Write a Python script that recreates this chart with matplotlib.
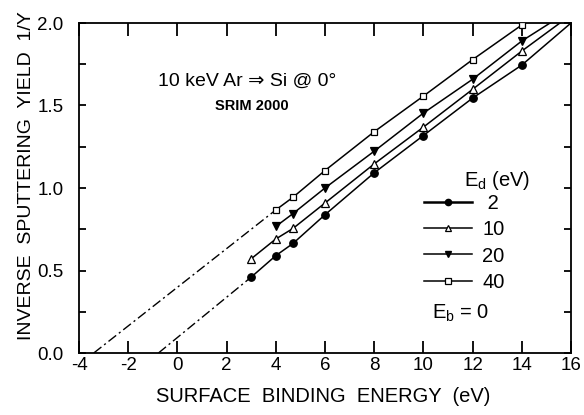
import matplotlib
matplotlib.use("Agg")
import matplotlib.pyplot as plt
from matplotlib.lines import Line2D

plt.rcParams['font.family'] = ['Liberation Sans', 'DejaVu Sans']
plt.rcParams['mathtext.fontset'] = 'custom'
plt.rcParams['mathtext.rm'] = 'Liberation Sans'
plt.rcParams['mathtext.it'] = 'Liberation Sans'

# ---- data ----
ed_labels = ['2', '10', '20', '40']
x_2 = [3, 4, 4.7, 6, 8, 10, 12, 14]
y_2 = [0.46, 0.59, 0.664, 0.838, 1.092, 1.318, 1.545, 1.745]
x_10 = [3, 4, 4.7, 6, 8, 10, 12, 14]
y_10 = [0.571, 0.691, 0.755, 0.909, 1.146, 1.369, 1.598, 1.83]
x_20 = [4, 4.7, 6, 8, 10, 12, 14]
y_20 = [0.767, 0.845, 1.0, 1.223, 1.454, 1.659, 1.891]
x_40 = [4, 4.7, 6, 8, 10, 12, 14]
y_40 = [0.867, 0.944, 1.106, 1.341, 1.557, 1.778, 1.988]
# where the drawn curves leave the frame (top edge)
x_end = [16.0, 15.55, 15.15, 14.1]
y_end = [2.0, 2.0, 2.0, 2.0]
# extrapolation to zero yield (E_b intercepts), for Ed = 2 and Ed = 40
x_int = [-0.77, -3.4]
y_int = [0.0, 0.0]

xticks = [-4, -2, 0, 2, 4, 6, 8, 10, 12, 14, 16]
yticks = [0.0, 0.5, 1.0, 1.5, 2.0]

W, H = 584, 415
fig = plt.figure(figsize=(W / 100, H / 100), dpi=100)
ax = fig.add_axes([79 / W, 62 / H, 492 / W, 330 / H])

series = [
    (x_2, y_2, dict(marker='o', mfc='black', ms=5.4)),
    (x_10, y_10, dict(marker='^', mfc='white', ms=6.3)),
    (x_20, y_20, dict(marker='v', mfc='black', ms=6.3)),
    (x_40, y_40, dict(marker='s', mfc='white', ms=5.0)),
]

for i, (xs, ys, st) in enumerate(series):
    xx = list(xs) + [x_end[i]]
    yy = list(ys) + [y_end[i]]
    ax.plot(xx, yy, color='black', lw=1.1, marker=st['marker'], mfc=st['mfc'],
            mec='black', mew=0.9, ms=st['ms'], markevery=list(range(len(xs))),
            clip_on=True, zorder=3)

# dash-dot extrapolations
dd = (0, (7, 2.5, 1.5, 2.5))
ax.plot([x_int[0], x_2[0]], [y_int[0], y_2[0]], color='black', lw=1.0, ls=dd, zorder=2)
ax.plot([x_int[1], x_40[0]], [y_int[1], y_40[0]], color='black', lw=1.0, ls=dd, zorder=2)

ax.set_xlim(-4, 16)
ax.set_ylim(0, 2.0)
ax.set_xticks(xticks)
ax.set_xticklabels([str(t) for t in xticks])
ax.set_yticks(yticks)
ax.set_yticklabels(['%.1f' % t for t in yticks])
ax.set_yticks([0.25, 0.75, 1.25, 1.75], minor=True)

ax.tick_params(axis='x', which='major', direction='in', length=9, width=1.3,
               top=True, bottom=True, labelsize=13.5, pad=3)
ax.tick_params(axis='y', which='both', direction='in', length=5, width=1.3,
               left=True, right=True, labelsize=13.5, pad=11)
for sp in ax.spines.values():
    sp.set_linewidth(1.3)

fig.text(323 / W, 1 - 396 / H, 'SURFACE  BINDING  ENERGY  (eV)', fontsize=14.5,
         ha='center', va='center')
fig.text(27 / W, 1 - 176 / H, 'INVERSE  SPUTTERING  YIELD  1/Y', fontsize=14,
         ha='center', va='center', rotation=90)

fig.text(247 / W, 1 - 81 / H, '10 keV Ar \u21d2 Si @ 0\u00b0', fontsize=14,
         ha='center', va='center', family=['Liberation Sans', 'DejaVu Sans'])
fig.text(252 / W, 1 - 106 / H, 'SRIM 2000', fontsize=10.5, fontweight='bold',
         ha='center', va='center')

# legend
handles = [
    Line2D([], [], color='black', lw=1.8, marker='o', mfc='black', mec='black', ms=4.5),
    Line2D([], [], color='black', lw=1.1, marker='^', mfc='white', mec='black', mew=0.9, ms=5),
    Line2D([], [], color='black', lw=1.1, marker='v', mfc='black', mec='black', ms=5),
    Line2D([], [], color='black', lw=1.1, marker='s', mfc='white', mec='black', mew=0.9, ms=4),
]
labels = [' ' + ed_labels[0]] + ed_labels[1:]
leg = ax.legend(handles, labels, loc='upper left',
                bbox_to_anchor=(424 / W, 1 - 194 / H), bbox_transform=fig.transFigure,
                frameon=False, fontsize=14.5, handlelength=2.4, handletextpad=0.5,
                labelspacing=0.36, borderpad=0, borderaxespad=0)

fig.text(497 / W, 1 - 180 / H, r'$\mathregular{E_d}$ (eV)', fontsize=14.5,
         ha='center', va='center')
fig.text(461 / W, 1 - 313 / H, r'$\mathregular{E_b}$ = 0', fontsize=14.5,
         ha='center', va='center')

fig.savefig('out.png', dpi=100)
